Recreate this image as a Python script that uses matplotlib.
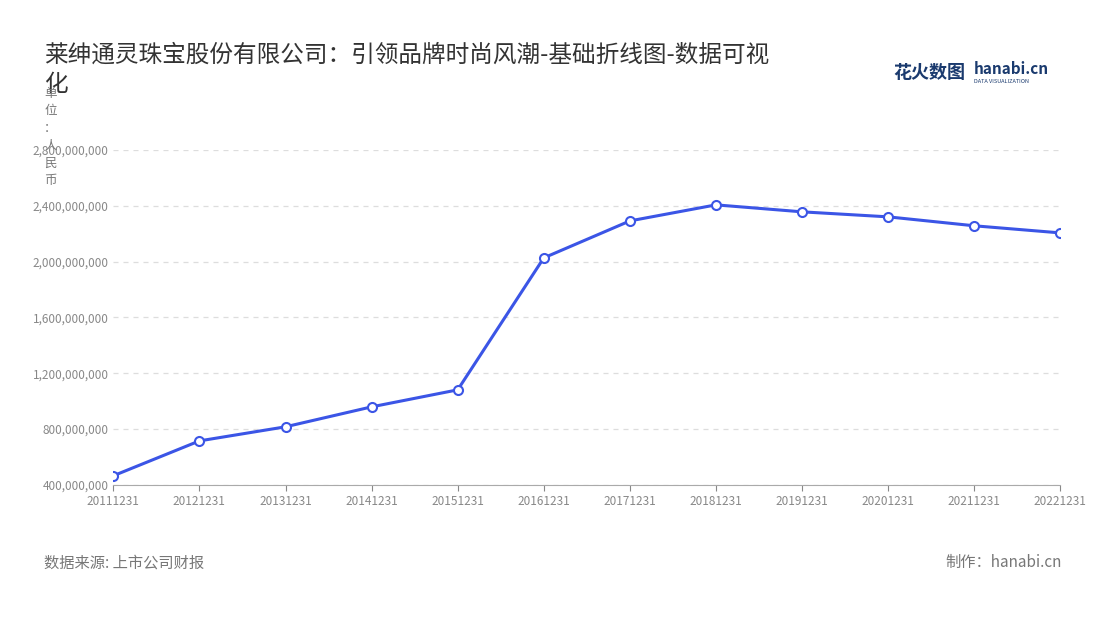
import matplotlib.pyplot as plt
from matplotlib.ticker import FuncFormatter

plt.rcParams['font.family'] = ['Noto Sans CJK SC', 'DejaVu Sans']

years = ['20111231', '20121231', '20131231', '20141231', '20151231', '20161231',
         '20171231', '20181231', '20191231', '20201231', '20211231', '20221231']
values = [465e6, 715e6, 816e6, 959e6, 1081e6, 2027e6,
          2292e6, 2407e6, 2357e6, 2321e6, 2257e6, 2206e6]
yticks = [400e6, 800e6, 1200e6, 1600e6, 2000e6, 2400e6, 2800e6]

fig = plt.figure(figsize=(11, 6.2), dpi=100)
ax = fig.add_axes([0.103, 0.218, 0.861, 0.54])
x = list(range(len(years)))
ax.plot(x, values, color='#3b55e6', lw=2.2, marker='o', ms=6.5,
        mfc='white', mec='#3b55e6', mew=1.5, zorder=3)
ax.set_xlim(0, len(years) - 1)
ax.set_ylim(400e6, 2800e6)
ax.set_yticks(yticks)
ax.yaxis.set_major_formatter(FuncFormatter(lambda v, p: f'{int(v):,}'))
ax.set_xticks(x)
ax.set_xticklabels(years)
ax.tick_params(labelsize=8.5, colors='#888888', length=4)
ax.tick_params(axis='y', length=0)
ax.grid(axis='y', ls=(0, (4, 4)), color='#dddddd', lw=0.9)
for s in ['top', 'right', 'left']:
    ax.spines[s].set_visible(False)
ax.spines['bottom'].set_color('#aaaaaa')

fig.text(0.04, 0.93, '莱绅通灵珠宝股份有限公司：引领品牌时尚风潮-基础折线图-数据可视\n化',
         fontsize=17, color='#333333', va='top', linespacing=1.35)
fig.text(0.046, 0.86, '单\n位\n：\n人\n民\n币', fontsize=9, color='#777777',
         va='top', ha='center', linespacing=1.45)
fig.text(0.812, 0.883, '花火数图', fontsize=13, color='#1a3a6e', fontweight='bold', va='center')
fig.text(0.885, 0.888, 'hanabi.cn', fontsize=11, color='#1a3a6e', fontweight='bold', va='center')
fig.text(0.885, 0.869, 'DATA VISUALIZATION', fontsize=4, color='#1a3a6e', va='center')
fig.text(0.04, 0.085, '数据来源: 上市公司财报', fontsize=11, color='#777777')
fig.text(0.965, 0.085, '制作：hanabi.cn', fontsize=11, color='#777777', ha='right')

fig.savefig('out.png', dpi=100)
